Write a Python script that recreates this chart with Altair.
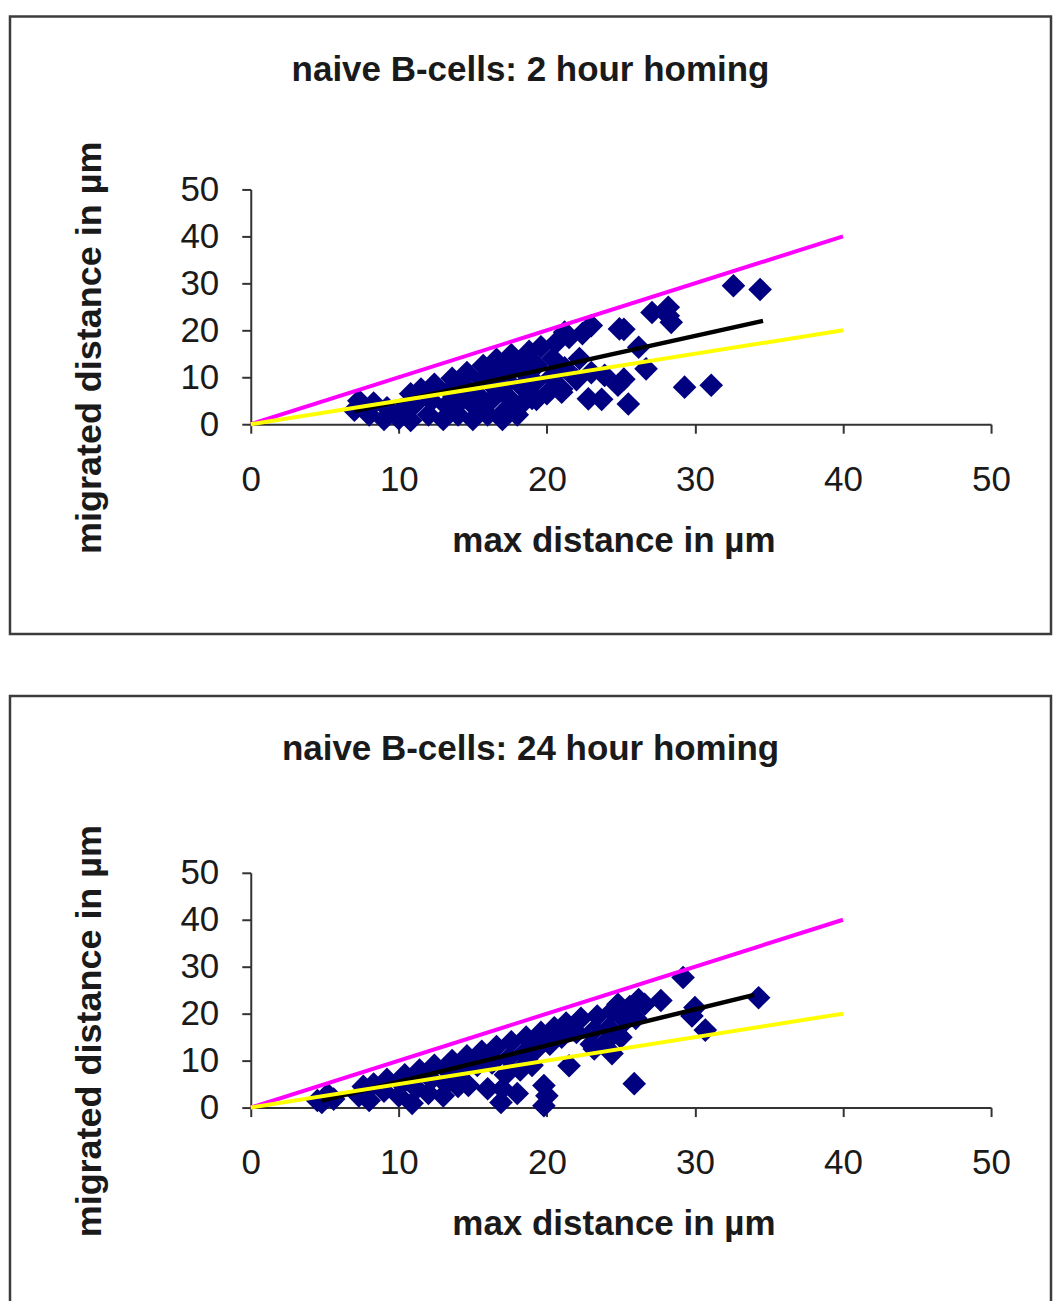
import altair as alt
import pandas as pd

FONT = "Liberation Sans"
TITLE_2H = "naive B-cells: 2 hour homing"
TITLE_24H = "naive B-cells: 24 hour homing"
X_TITLE = "max distance in µm"
Y_TITLE = "migrated distance in µm"
TICKS = [0, 10, 20, 30, 40, 50]

# 2 hour homing: max distance (x) and migrated distance (y)
h2_max = [7.0, 7.3, 8.0, 8.3, 9.0, 9.2, 10.0, 10.2, 10.8, 10.8, 11.0, 11.5, 12.0, 12.2, 12.4,
          13.0, 13.2, 13.4, 13.6, 14.0, 14.2, 14.5, 14.6, 15.0, 15.2, 15.4, 15.6, 15.7,
          16.0, 16.2, 16.4, 16.5, 16.6, 17.0, 17.2, 17.3, 17.4, 17.5, 17.6,
          18.0, 18.2, 18.3, 18.5, 18.5, 18.8, 19.0, 19.2, 19.3, 19.6,
          20.0, 20.3, 20.4, 20.6, 21.0, 21.2, 21.5, 22.0, 22.2, 22.4, 23.0,
          21.0, 22.8, 23.9, 24.8, 25.5, 24.9, 23.0, 21.2, 25.2, 26.2, 26.7, 25.2,
          27.1, 28.2, 28.4, 28.2, 29.3, 31.1, 32.6, 34.4, 19.3, 23.7]
h2_mig = [3.0, 5.0, 2.0, 4.5, 1.0, 3.5, 1.2, 3.0, 0.8, 6.5, 4.0, 7.5, 2.0, 5.0, 8.5,
          1.0, 4.0, 7.0, 9.8, 2.0, 5.0, 8.0, 11.0, 1.0, 3.5, 6.0, 9.5, 12.5,
          2.0, 5.0, 8.0, 11.0, 13.8, 1.0, 3.0, 6.0, 9.0, 12.0, 14.8,
          2.0, 4.0, 8.0, 11.0, 13.5, 15.5, 5.5, 9.0, 12.5, 16.5,
          6.5, 10.0, 14.0, 17.3, 7.5, 12.0, 18.5, 9.5, 14.0, 19.3, 11.0,
          6.8, 5.4, 10.4, 8.3, 4.3, 20.3, 21.0, 19.6, 20.2, 16.4, 11.8, 9.6,
          23.8, 24.9, 21.7, 23.1, 7.9, 8.3, 29.5, 28.7, 5.3, 5.3]

# 24 hour homing
h24_max = [4.5, 4.8, 5.2, 5.6, 7.3, 7.6, 8.0, 8.3, 9.0, 9.2, 10.0, 10.2, 10.4,
           10.9, 11.2, 11.4, 12.0, 12.2, 12.4, 13.0, 13.2, 13.4, 13.6,
           14.0, 14.3, 14.6, 14.7, 15.3, 15.6, 16.0, 16.3, 16.6, 16.9, 17.0, 17.2, 17.4, 17.6,
           18.0, 18.2, 18.4, 18.6, 19.0, 19.3, 19.6, 19.8, 19.8, 20.0,
           20.2, 20.5, 21.0, 21.3, 21.5, 22.0, 22.3, 23.0, 23.2, 23.4, 23.2,
           24.0, 24.2, 24.4, 24.4, 24.8, 25.0, 25.3, 25.6, 26.0, 26.2, 26.6,
           27.7, 29.2, 30.0, 29.8, 30.7, 34.3, 25.9]
h24_mig = [1.5, 1.1, 2.8, 1.8, 2.5, 4.5, 1.5, 5.0, 3.5, 6.0, 2.5, 5.0, 7.0,
           0.9, 4.0, 8.0, 3.0, 6.0, 9.0, 2.5, 5.0, 7.5, 10.0,
           4.5, 8.0, 11.0, 4.7, 9.0, 12.0, 4.0, 9.5, 13.0, 1.1, 4.0, 7.0, 10.5, 14.0,
           3.0, 8.0, 11.5, 15.0, 9.0, 12.5, 16.0, 0.4, 4.7, 2.5,
           13.5, 17.0, 15.0, 18.0, 8.9, 16.0, 19.0, 13.5, 16.5, 19.5, 12.5,
           14.0, 17.0, 20.5, 11.5, 22.0, 15.0, 18.5, 21.5, 19.0, 23.0, 22.0,
           22.8, 27.7, 21.3, 19.5, 16.5, 23.4, 5.1]

# reference lines: y = x and y = x/2, up to 40
ref_x = [0, 40]
ref_upper_y = [0, 40]
ref_lower_y = [0, 20]

# trend lines
h2_trend_x = [7.0, 34.6]
h2_trend_y = [2.8, 22.0]
h24_trend_x = [4.8, 34.0]
h24_trend_y = [1.5, 24.0]

NAVY = "#000080"
MAGENTA = "#FF00FF"
YELLOW = "#FFFF00"
TEXT = "#1a1a1a"
AXIS = "#333333"

BOX_W = 1042
BOX_H = 618
X0, X50 = 241, 982


def panel(title, mx, my, tx, ty, y0, ytitle_y):
    xs = alt.Scale(domain=[0, 50], range=[X0, X50], nice=False, zero=False)
    ys = alt.Scale(domain=[0, 50], range=[y0, y0 - 235], nice=False, zero=False)
    xax = alt.Axis(values=TICKS, orient="bottom", offset=-(BOX_H - y0), grid=False,
                   domainColor=AXIS, domainWidth=2, tickColor=AXIS, tickWidth=2, tickSize=9,
                   labelFont=FONT, labelFontSize=35, labelColor=TEXT, labelPadding=29,
                   labelFlush=False, labelOverlap=False,
                   title=X_TITLE, titleFont=FONT, titleFontSize=35, titleFontWeight="bold",
                   titleColor=TEXT, titleX=604, titleY=116, titleBaseline="middle",
                   titleAlign="center")
    yax = alt.Axis(values=TICKS, orient="left", offset=-X0, grid=False,
                   domainColor=AXIS, domainWidth=2, tickColor=AXIS, tickWidth=2, tickSize=9,
                   labelFont=FONT, labelFontSize=35, labelColor=TEXT, labelPadding=23,
                   labelFlush=False, labelOverlap=False,
                   title=Y_TITLE, titleFont=FONT, titleFontSize=36, titleFontWeight="bold",
                   titleColor=TEXT, titleX=-161, titleY=ytitle_y, titleAngle=270,
                   titleBaseline="middle", titleAlign="center")
    X = alt.X("max:Q", scale=xs, axis=xax)
    Y = alt.Y("mig:Q", scale=ys, axis=yax)

    pts = pd.DataFrame({"max": mx, "mig": my})
    upper = pd.DataFrame({"max": ref_x, "mig": ref_upper_y})
    lower = pd.DataFrame({"max": ref_x, "mig": ref_lower_y})
    trend = pd.DataFrame({"max": tx, "mig": ty})

    scatter = alt.Chart(pts).mark_point(shape="diamond", filled=True, size=560,
                                         color=NAVY, opacity=1).encode(x=X, y=Y)
    l_trend = alt.Chart(trend).mark_line(color="black", strokeWidth=4.5).encode(x=X, y=Y)
    l_upper = alt.Chart(upper).mark_line(color=MAGENTA, strokeWidth=4).encode(x=X, y=Y)
    l_lower = alt.Chart(lower).mark_line(color=YELLOW, strokeWidth=4).encode(x=X, y=Y)

    return alt.layer(scatter, l_trend, l_upper, l_lower).properties(
        width=BOX_W, height=BOX_H,
        title=alt.TitleParams(title, font=FONT, fontSize=35, fontWeight="bold",
                              color=TEXT, anchor="middle", offset=-88, baseline="middle"),
    )


top = panel(TITLE_2H, h2_max, h2_mig, h2_trend_x, h2_trend_y, 408, 331)
bottom = panel(TITLE_24H, h24_max, h24_mig, h24_trend_x, h24_trend_y, 412, 335)

chart = alt.vconcat(top, bottom, spacing=58).resolve_scale(
    x="independent", y="independent"
).properties(
    padding={"left": 8, "top": 14, "right": 0, "bottom": 0},
    background="white",
).configure_view(stroke="#3c3c3c", strokeWidth=2.5)

chart.save("out.html", embed_options={"renderer": "svg", "actions": False})
